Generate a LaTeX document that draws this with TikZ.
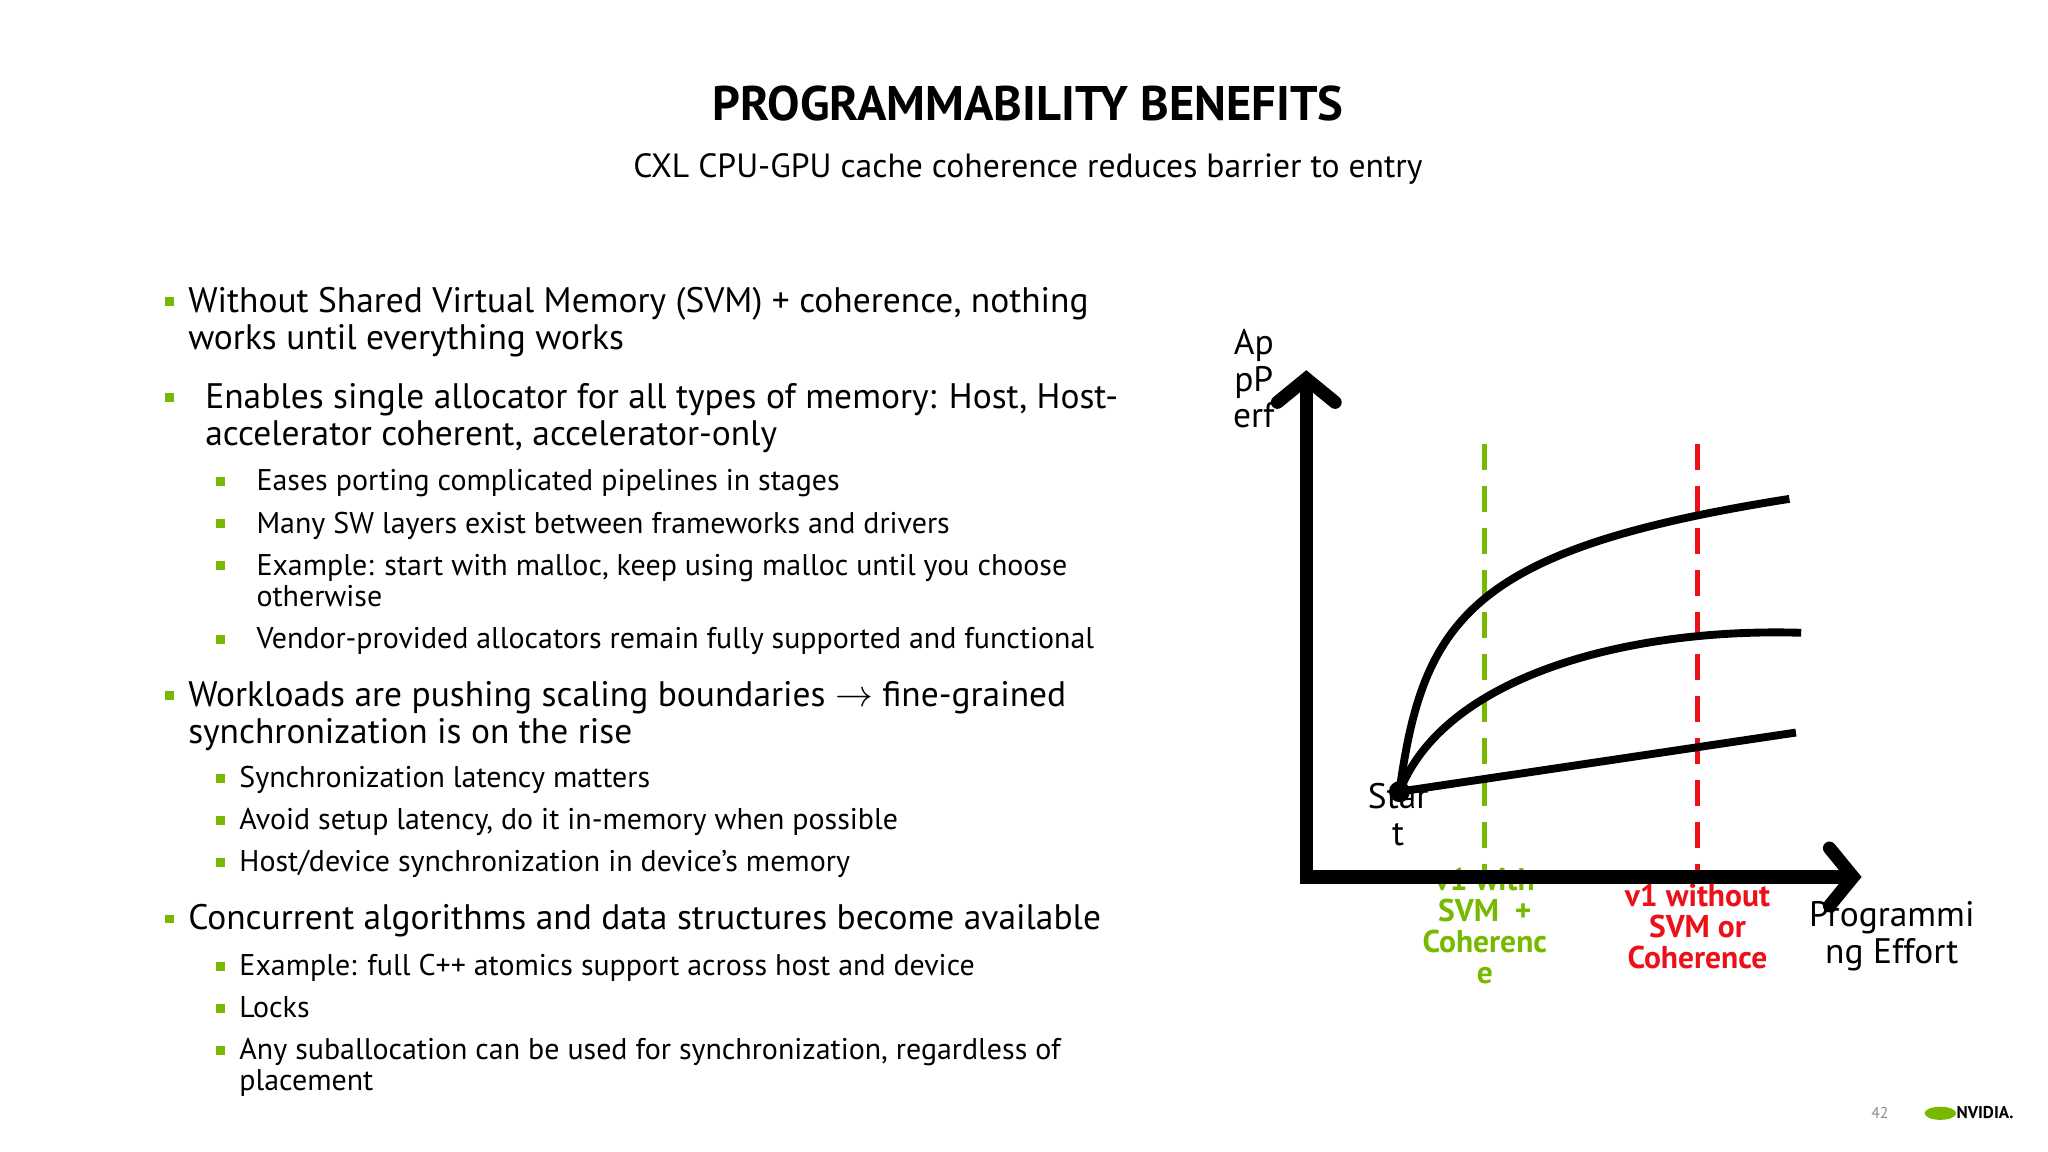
\documentclass[tikz,border=0pt]{standalone}
\usepackage{fontspec}
\setmainfont{PT Sans}
\usetikzlibrary{arrows.meta,positioning}
\definecolor{nvgreen}{RGB}{118,185,0}
\definecolor{nvred}{RGB}{236,16,24}
\begin{document}
\begin{tikzpicture}[x=0.5pt,y=-0.5pt,
	bigitem/.style={anchor=base west,inner sep=0pt,align=left,
	font=\fontsize{13.5}{14}\selectfont},
	smallitem/.style={anchor=base west,inner sep=0pt,align=left,
	font=\fontsize{11.4}{12}\selectfont},
	bulletmark/.style={fill=nvgreen,inner sep=0pt,minimum size=3.4pt},
	axis/.style={line width=5pt,-{Straight Barb[length=9pt,width=22pt,line cap=round]}},
	curve/.style={line width=3pt},
	limit/.style={line width=2pt,dash pattern=on 10pt off 6pt},
	chartlabel/.style={align=center,inner sep=0pt,anchor=base,
	font=\fontsize{13.5}{14}\selectfont},
	versionlabel/.style={align=center,inner sep=0pt,anchor=base,
	font=\bfseries\fontsize{12}{11.8}\selectfont}
]
\useasboundingbox (0,0) rectangle (1560,877.5);

\node (title) [anchor=base,inner sep=0pt,font=\bfseries\fontsize{18.5}{22}\selectfont] at (783,92) {PROGRAMMABILITY BENEFITS};
\node (subtitle) [anchor=base,inner sep=0pt,font=\fontsize{12.8}{14}\selectfont] at (783,135) {CXL CPU-GPU cache coherence reduces barrier to entry};

% main points (anchored at the baseline of their last line)
\node (p1) [bigitem] at (143,266) {Without Shared Virtual Memory (SVM) + coherence, nothing\\works until everything works};
\node (p2) [bigitem] at (156,339) {Enables single allocator for all types of memory: Host, Host-\\accelerator coherent, accelerator-only};
\node (p3) [bigitem] at (143,566) {Workloads are pushing scaling boundaries $\rightarrow$ fine-grained\\synchronization is on the rise};
\node (p4) [bigitem] at (143,708) {Concurrent algorithms and data structures become available};
\foreach \y/\n in {230/1,303/2,530/3,700/4}
	\node (m\n) [bulletmark] at (129,\y) {};

% sub points
\node (s1) [smallitem] at (195,374) {Eases porting complicated pipelines in stages};
\node (s2) [smallitem] at (195,406) {Many SW layers exist between frameworks and drivers};
\node (s3) [smallitem] at (195,462) {Example: start with malloc, keep using malloc until you choose\\otherwise};
\node (s4) [smallitem] at (195,494) {Vendor-provided allocators remain fully supported and functional};
\node (s5) [smallitem] at (182,600) {Synchronization latency matters};
\node (s6) [smallitem] at (182,632) {Avoid setup latency, do it in-memory when possible};
\node (s7) [smallitem] at (182,664) {Host/device synchronization in device’s memory};
\node (s8) [smallitem] at (182,743) {Example: full C++ atomics support across host and device};
\node (s9) [smallitem] at (182,775) {Locks};
\node (s10) [smallitem] at (182,831) {Any suballocation can be used for synchronization, regardless of\\placement};
\foreach \y/\n in {367/5,399/6,431/7,487/8,593/9,625/10,657/11,736/12,768/13,800/14}
	\node (m\n) [bulletmark] at (168,\y) {};

% chart
\coordinate (origin) at (995,668);
\coordinate (ytip) at (995,282);
\coordinate (xtip) at (1418,668);
\coordinate (start) at (1066,603);
\coordinate (gtop) at (1131,338);
\coordinate (gbot) at (1131,664);
\coordinate (rtop) at (1293,338);
\coordinate (rbot) at (1293,664);

\node (green) [versionlabel,text=nvgreen] at (1131,749) {v1 with\\SVM \ +\\Coherenc\\e};
\node (red) [versionlabel,text=nvred] at (1293,738) {v1 without\\SVM or\\Coherence};
\draw[limit,nvgreen] (gtop) -- (gbot);
\draw[limit,nvred] (rtop) -- (rbot);

\draw[curve] (start) .. controls (1084,470) and (1122,418) .. (1363,380);
\draw[curve] (start) .. controls (1100,515) and (1240,478) .. (1372,482);
\draw[curve] (start) -- (1368,558);
\fill (start) circle (4pt);

\node (perf) [chartlabel] at (955,326) {Ap\\pP\\erf};
\node (startlbl) [chartlabel] at (1065,644) {Star\\t};
\node (effort) [chartlabel] at (1441,734) {Programmi\\ng Effort};

\draw[axis] (origin) -- (ytip);
\draw[axis] ([xshift=-2.5pt]origin) -- (xtip);

% footer
\node (page) [anchor=base,inner sep=0pt,text=black!45,font=\fontsize{6}{7}\selectfont] at (1432,852) {42};
\node (logo) [anchor=base west,inner sep=0pt,font=\bfseries\fontsize{6.5}{7}\selectfont] at (1490,852) {NVIDIA.};
\fill[nvgreen] (1478,848) ellipse (6pt and 2.5pt);
\end{tikzpicture}
\end{document}
